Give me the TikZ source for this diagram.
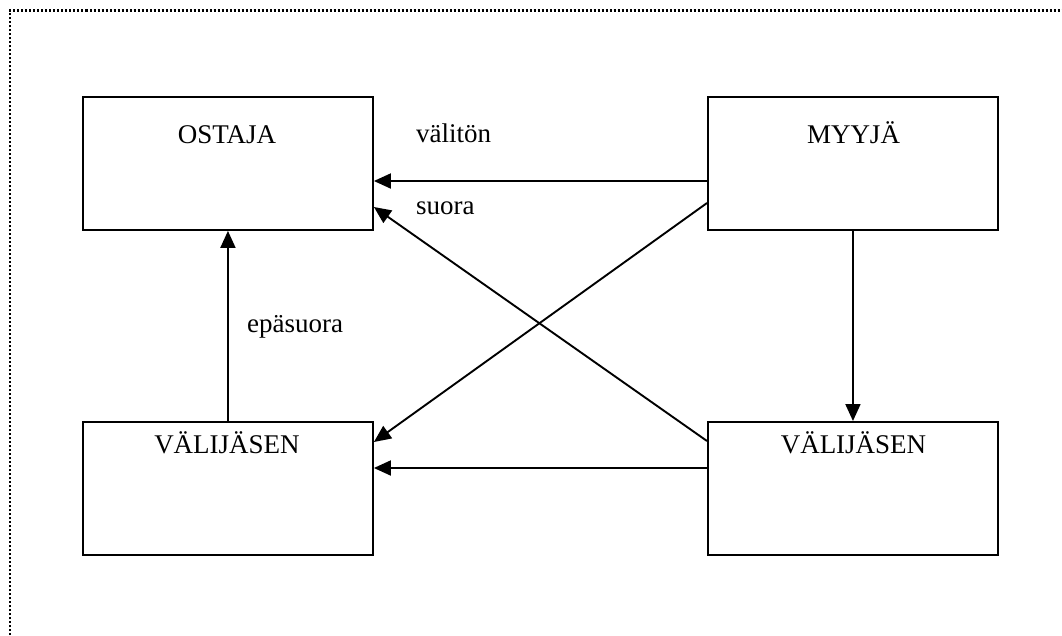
\documentclass[tikz,border=0pt]{standalone}
\usepackage{fontspec}
\setmainfont{Liberation Serif}
\usetikzlibrary{arrows.meta}
\begin{document}
\begin{tikzpicture}[x=1pt,y=-1pt,
  box/.style={draw,line width=1.9pt,rectangle,inner sep=0pt,
    minimum width=290pt,minimum height=133pt,anchor=north west},
  lbl/.style={font=\fontsize{27}{31}\selectfont,inner sep=0pt,anchor=base west},
  ttl/.style={font=\fontsize{27}{31}\selectfont,inner sep=0pt,anchor=base},
  arr/.style={line width=1.9pt,-{Triangle[length=17pt,width=15pt]}},
  frame/.style={line width=2.4pt,dash pattern=on 2pt off 2pt}]
\useasboundingbox (0,0) rectangle (1062,635);
% dotted frame, top and left sides only
\draw[frame] (10,635) -- (10,10.5) -- (1062,10.5);
% boxes
\node[box] (ostaja) at (82,96) {};
\node[box] (myyja) at (707,96) {};
\node[box] (vl) at (82,421) {};
\node[box] (vr) at (707,421) {};
% box titles
\node[ttl] (tostaja) at (227,143) {OSTAJA};
\node[ttl] (tmyyja) at (853.5,143) {MYYJÄ};
\node[ttl] (tvl) at (227,453) {VÄLIJÄSEN};
\node[ttl] (tvr) at (853.5,453) {VÄLIJÄSEN};
% edge labels
\node[lbl] (valiton) at (416,142) {välitön};
\node[lbl] (suora) at (416,214) {suora};
\node[lbl] (epasuora) at (247,332) {epäsuora};
% connectors
\draw[arr] ([yshift=-85pt]myyja.north west) -- ([yshift=-85pt]ostaja.north east);
\draw[arr] ([yshift=-20pt]vr.north west) -- ([yshift=-111pt]ostaja.north east);
\draw[arr] ([yshift=-107pt]myyja.north west) -- ([yshift=-21pt]vl.north east);
\draw[arr] ([yshift=-47pt]vr.north west) -- ([yshift=-47pt]vl.north east);
\draw[arr] (vl.north) -- (ostaja.south);
\draw[arr] (myyja.south) -- (vr.north);
\end{tikzpicture}
\end{document}
